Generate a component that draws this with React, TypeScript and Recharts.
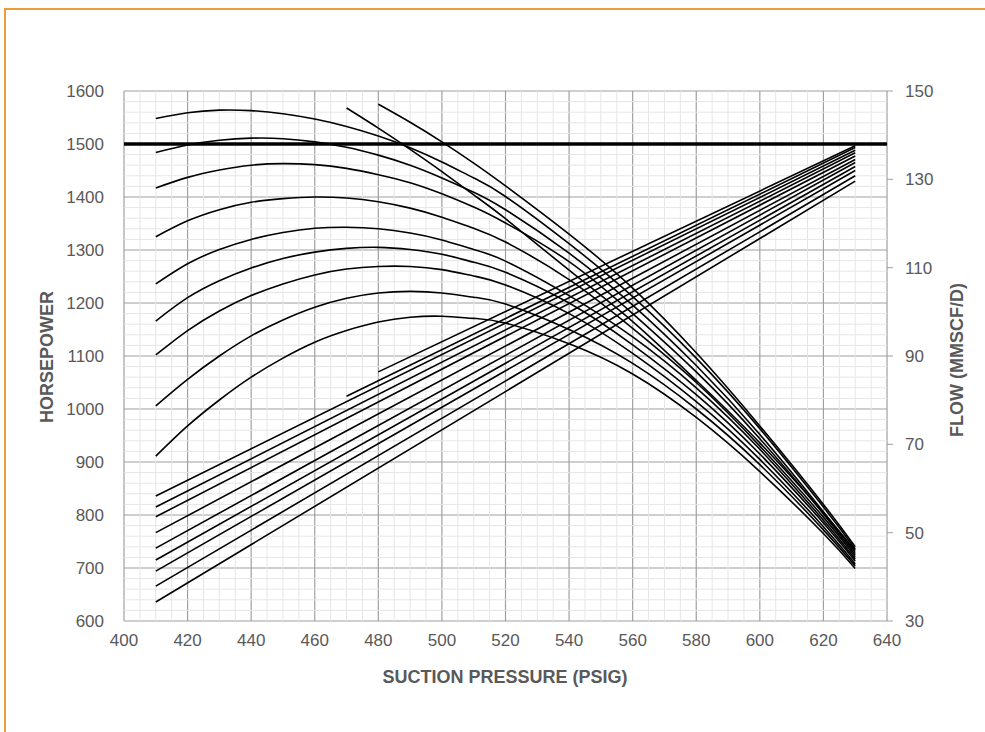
import React from "react";
import { LineChart, Line, XAxis, YAxis, CartesianGrid, ReferenceLine } from "recharts";

// axis ticks
const pressureTicks = [400, 420, 440, 460, 480, 500, 520, 540, 560, 580, 600, 620, 640];
const hpTicks = [600, 700, 800, 900, 1000, 1100, 1200, 1300, 1400, 1500, 1600];
const flowTicks = [30, 50, 70, 90, 110, 130, 150];

// light minor grid
const pressureMinor = [
  405, 410, 415, 425, 430, 435, 445, 450, 455, 465, 470, 475, 485, 490, 495, 505, 510, 515,
  525, 530, 535, 545, 550, 555, 565, 570, 575, 585, 590, 595, 605, 610, 615, 625, 630, 635,
];
const hpMinor = [
  620, 640, 660, 680, 720, 740, 760, 780, 820, 840, 860, 880, 920, 940, 960, 980,
  1020, 1040, 1060, 1080, 1120, 1140, 1160, 1180, 1220, 1240, 1260, 1280,
  1320, 1340, 1360, 1380, 1420, 1440, 1460, 1480, 1520, 1540, 1560, 1580,
];

const HP_LIMIT = 1500;

// suction pressure points used by the horsepower curves
const pressures = [410, 420, 430, 440, 450, 460, 470, 480, 490, 500, 510, 520, 540, 560, 580, 600, 620, 630];

// horsepower curves (right-aligned to pressures)
const hp1 = [1548, 1559, 1564, 1563, 1557, 1547, 1533, 1515, 1493, 1466, 1436, 1401, 1312, 1212, 1096, 963, 815, 736];
const hp2 = [1484, 1498, 1507, 1511, 1510, 1504, 1494, 1479, 1460, 1436, 1409, 1376, 1294, 1196, 1082, 952, 806, 729];
const hp3 = [1417, 1437, 1451, 1460, 1463, 1461, 1454, 1442, 1427, 1406, 1381, 1351, 1278, 1180, 1070, 944, 802, 725];
const hp4 = [1325, 1355, 1376, 1390, 1397, 1400, 1398, 1391, 1379, 1362, 1341, 1315, 1244, 1152, 1050, 930, 796, 721];
const hp5 = [1236, 1274, 1301, 1320, 1333, 1341, 1343, 1340, 1332, 1319, 1301, 1279, 1214, 1136, 1040, 924, 790, 717];
const hp6 = [1166, 1210, 1242, 1266, 1284, 1296, 1303, 1305, 1301, 1292, 1277, 1258, 1200, 1121, 1027, 915, 785, 713];
const hp7 = [1102, 1148, 1185, 1214, 1236, 1253, 1264, 1269, 1269, 1263, 1251, 1234, 1180, 1105, 1014, 905, 778, 708];
const hp8 = [1006, 1056, 1100, 1138, 1168, 1192, 1209, 1219, 1222, 1219, 1211, 1198, 1150, 1086, 1000, 895, 772, 704];
const hp9 = [911, 968, 1017, 1060, 1096, 1126, 1148, 1164, 1173, 1175, 1171, 1162, 1123, 1066, 984, 882, 765, 699];
const hp10 = [1568, 1530, 1490, 1448, 1404, 1359, 1262, 1165, 1054, 936, 804, 733];
const hp11 = [1575, 1541, 1504, 1464, 1421, 1330, 1228, 1106, 968, 820, 740];

const hpCurves = [hp1, hp2, hp3, hp4, hp5, hp6, hp7, hp8, hp9, hp10, hp11];

// flow lines (straight), start and end readings
const flowStartPressure = [410, 410, 410, 410, 410, 410, 410, 410, 410, 470, 480];
const flowAtStart = [58.3, 55.8, 53.6, 50.0, 46.5, 43.8, 41.3, 37.9, 34.3, 80.9, 86.4];
const flowEndPressure = 630;
const flowAtEnd = [136.6, 136.0, 135.3, 134.5, 133.8, 132.9, 132.0, 130.8, 129.6, 137.2, 137.6];

const hpData = hpCurves.map((vals) => {
  const ps = pressures.slice(pressures.length - vals.length);
  return vals.map((hp, i) => ({ p: ps[i], hp }));
});

const flowData = flowAtStart.map((v, i) => [
  { p: flowStartPressure[i], flow: v },
  { p: flowEndPressure, flow: flowAtEnd[i] },
]);

const FONT = "'Liberation Sans', Arial, sans-serif";
const TEXT = "#595959";
const tickStyle = { fontSize: 17, fill: TEXT, fontFamily: FONT };
const titleStyle: React.CSSProperties = {
  position: "absolute",
  fontFamily: FONT,
  fontWeight: 700,
  fontSize: 18,
  color: TEXT,
  whiteSpace: "nowrap",
};

export default function App() {
  return (
    <div
      style={{
        position: "fixed",
        left: 0,
        top: 0,
        width: 985,
        height: 732,
        overflow: "hidden",
        background: "#fff",
      }}
    >
      <div
        style={{
          position: "absolute",
          left: 4,
          top: 8,
          width: 1000,
          height: 800,
          border: "2px solid #EE9B3B",
        }}
      />
      <div style={{ position: "absolute", left: 0, top: 0 }}>
        <LineChart width={985} height={732} margin={{ top: 91, right: 38, bottom: 81, left: 64 }}>
          {pressureMinor.map((v) => (
            <ReferenceLine key={`vx${v}`} x={v} yAxisId="hp" stroke="#E6E6E6" strokeWidth={1} />
          ))}
          {hpMinor.map((v) => (
            <ReferenceLine key={`hy${v}`} y={v} yAxisId="hp" stroke="#E6E6E6" strokeWidth={1} />
          ))}
          <CartesianGrid yAxisId="hp" stroke="#A0A0A0" strokeWidth={1.2} />
          <XAxis
            dataKey="p"
            type="number"
            domain={[400, 640]}
            ticks={pressureTicks}
            interval={0}
            height={30}
            tick={tickStyle}
            tickLine={false}
            axisLine={false}
            tickSize={6}
            tickMargin={7}
            allowDuplicatedCategory={false}
          />
          <YAxis
            yAxisId="hp"
            orientation="left"
            type="number"
            domain={[600, 1600]}
            ticks={hpTicks}
            interval={0}
            width={60}
            tick={tickStyle}
            tickLine={false}
            axisLine={false}
            tickSize={6}
            tickMargin={14}
            allowDataOverflow
          />
          <YAxis
            yAxisId="flow"
            orientation="right"
            type="number"
            domain={[30, 150]}
            ticks={flowTicks}
            interval={0}
            width={60}
            tick={tickStyle}
            tickLine={{ stroke: "#A0A0A0" }}
            axisLine={false}
            tickSize={6}
            tickMargin={12}
            allowDataOverflow
          />
          <ReferenceLine y={HP_LIMIT} yAxisId="hp" stroke="#000" strokeWidth={3.5} />
          {hpData.map((d, i) => (
            <Line
              key={`hp${i}`}
              data={d}
              dataKey="hp"
              yAxisId="hp"
              type="natural"
              stroke="#000"
              strokeWidth={1.6}
              dot={false}
              activeDot={false}
              isAnimationActive={false}
            />
          ))}
          {flowData.map((d, i) => (
            <Line
              key={`fl${i}`}
              data={d}
              dataKey="flow"
              yAxisId="flow"
              type="linear"
              stroke="#000"
              strokeWidth={1.6}
              dot={false}
              activeDot={false}
              isAnimationActive={false}
            />
          ))}
        </LineChart>
      </div>
      <div style={{ ...titleStyle, left: 505, top: 677, transform: "translate(-50%, -50%)" }}>
        SUCTION PRESSURE (PSIG)
      </div>
      <div
        style={{ ...titleStyle, left: 47, top: 357, transform: "translate(-50%, -50%) rotate(-90deg)" }}
      >
        HORSEPOWER
      </div>
      <div
        style={{ ...titleStyle, left: 957, top: 360, transform: "translate(-50%, -50%) rotate(-90deg)" }}
      >
        FLOW (MMSCF/D)
      </div>
    </div>
  );
}
